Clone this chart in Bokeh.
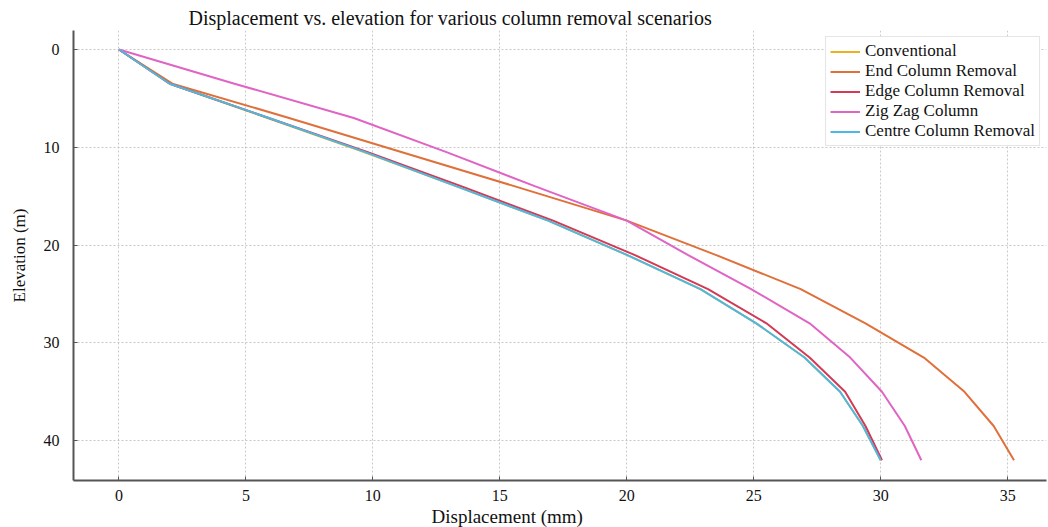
from bokeh.plotting import figure
from bokeh.models import Range1d, Legend, LegendItem, FixedTicker, Title
from bokeh.embed import file_html
from bokeh.resources import INLINE

elevation = [0, 3.5, 7, 10.5, 14, 17.5, 21, 24.5, 28, 31.5, 35, 38.5, 42]
conventional = [0, 2.0, 5.85, 9.65, 13.3, 16.9, 20.0, 22.9, 25.1, 27.0, 28.4, 29.3, 30.0]
end_column = [0, 2.1, 6.7, 11.15, 15.6, 20.0, 23.5, 26.85, 29.4, 31.7, 33.3, 34.45, 35.25]
edge_column = [0, 2.0, 5.9, 9.8, 13.5, 17.1, 20.3, 23.2, 25.5, 27.2, 28.6, 29.4, 30.05]
zig_zag = [0, 4.55, 9.25, 12.9, 16.4, 20.0, 22.4, 24.9, 27.2, 28.8, 30.05, 30.95, 31.6]
centre_column = [0, 2.0, 5.9, 9.7, 13.3, 16.9, 20.0, 22.9, 25.1, 27.0, 28.4, 29.3, 30.0]

series_names = ["Conventional", "End Column Removal", "Edge Column Removal",
                "Zig Zag Column", "Centre Column Removal"]
series_values = [conventional, end_column, edge_column, zig_zag, centre_column]
series_colors = ["#EDB120", "#E0703A", "#D23A55", "#E064C4", "#4DB8E4"]

x_ticks = [0, 5, 10, 15, 20, 25, 30, 35]
y_ticks = [0, 10, 20, 30, 40]
x_title = "Displacement (mm)"
y_title = "Elevation (m)"

FONT = "Liberation Serif"

p = figure(width=1048, height=527, output_backend="svg", toolbar_location=None,
           x_range=Range1d(-1.79, 36.53), y_range=Range1d(44.07, -1.94),
           min_border_left=73, min_border_right=2, min_border_top=30, min_border_bottom=47)
p.outline_line_color = None
p.background_fill_color = "white"
p.border_fill_color = "white"

p.title.text = "Displacement vs. elevation for various column removal scenarios"
p.title.text_font = FONT
p.title.text_font_size = "20px"
p.title.text_font_style = "normal"
p.title.align = "left"
p.title.offset = 115
p.title.standoff = 4
p.title.text_color = "#111111"

items = []
for name, vals, col in zip(series_names, series_values, series_colors):
    r = p.line(vals, elevation, line_color=col, line_width=2)
    items.append(LegendItem(label=name, renderers=[r]))

legend = Legend(items=items, location="top_right")
legend.label_text_font = FONT
legend.label_text_font_size = "17px"
legend.label_text_color = "#111111"
legend.glyph_width = 30
legend.glyph_height = 15
legend.label_height = 15
legend.label_standoff = 5
legend.spacing = 0
legend.padding = 4
legend.margin = 6
legend.border_line_color = "#cccccc"
legend.border_line_width = 1
legend.background_fill_color = "white"
legend.background_fill_alpha = 1.0
p.add_layout(legend)

for ax in (p.xaxis[0], p.yaxis[0]):
    ax.axis_line_color = "#555555"
    ax.axis_line_width = 2
    ax.major_tick_in = 4
    ax.major_tick_out = 0
    ax.major_tick_line_color = "#555555"
    ax.minor_tick_line_color = None
    ax.major_label_text_font = FONT
    ax.major_label_text_font_size = "16px"
    ax.major_label_text_color = "#111111"
    ax.axis_label_text_font = FONT
    ax.axis_label_text_font_style = "normal"
    ax.axis_label_text_color = "#111111"

p.xaxis[0].ticker = FixedTicker(ticks=x_ticks)
p.yaxis[0].ticker = FixedTicker(ticks=y_ticks)
p.yaxis[0].axis_label = y_title
p.yaxis[0].axis_label_text_font_size = "17px"
p.xaxis[0].major_label_standoff = 9
p.yaxis[0].major_label_standoff = 14
p.yaxis[0].axis_label_standoff = 12

# x-axis title, placed off-centre as in the original
xt = Title(text=x_title, align="left", offset=358, standoff=0,
           text_font=FONT, text_font_size="19px", text_font_style="normal",
           text_color="#111111")
p.add_layout(xt, "below")

for g in (p.xgrid[0], p.ygrid[0]):
    g.grid_line_color = "#bbbbbb"
    g.grid_line_dash = "2 2"
    g.grid_line_alpha = 0.8
    g.grid_line_width = 1

open("out.html", "w").write(file_html(p, INLINE))
